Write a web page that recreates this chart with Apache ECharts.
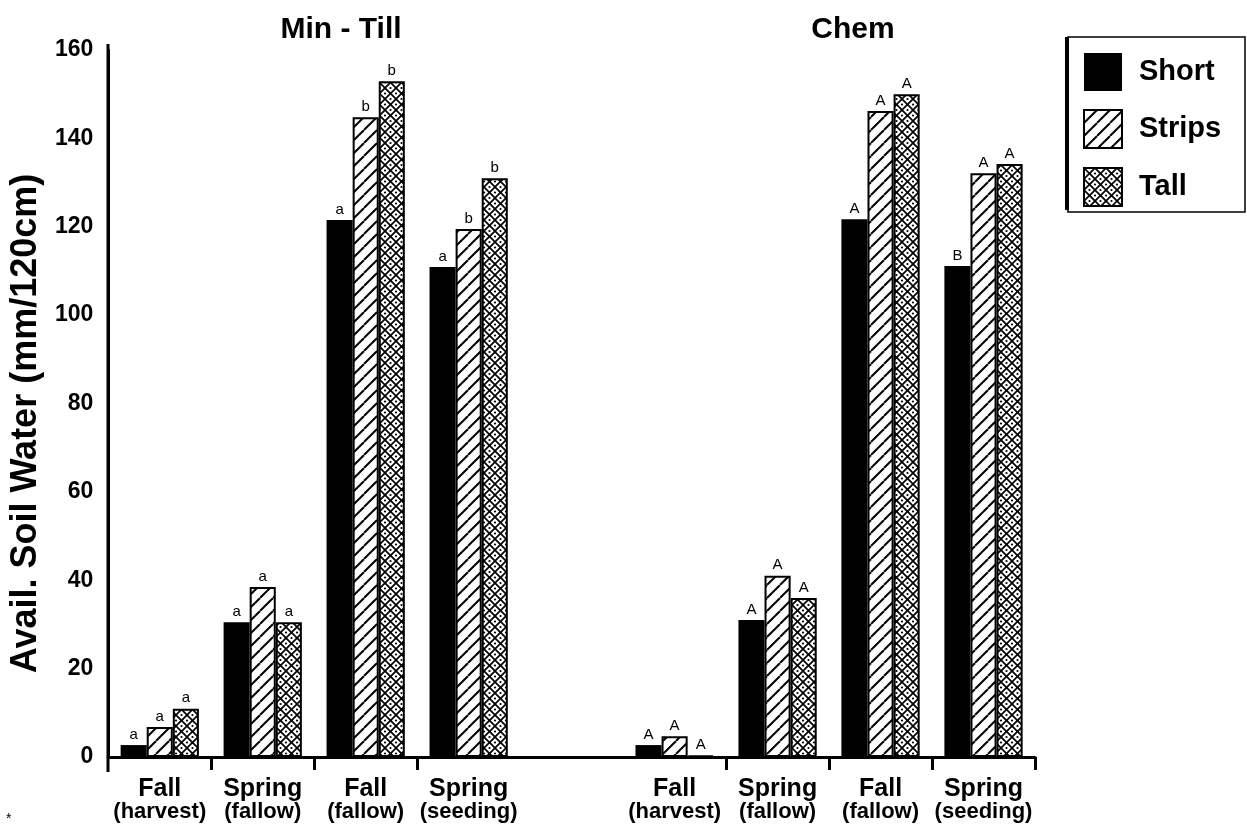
<!DOCTYPE html>
<html>
<head>
<meta charset="utf-8">
<script src="https://cdn.jsdelivr.net/npm/echarts@6/dist/echarts.min.js"></script>
<style>
html,body{margin:0;padding:0;background:#fff;}
#chart{width:1247px;height:831px;}
</style>
</head>
<body>
<div id="chart"></div>
<script>
// ---- data ----
const categories = ['Fall\n(harvest)', 'Spring\n(fallow)', 'Fall\n(fallow)', 'Spring\n(seeding)', '',
                    'Fall\n(harvest)', 'Spring\n(fallow)', 'Fall\n(fallow)', 'Spring\n(seeding)'];
const groupTitles = ['Min - Till', 'Chem'];
const seriesNames = ['Short', 'Strips', 'Tall'];
const shortValues  = [2.7, 30.5, 121.5, 110.9, '-', 2.7, 31, 121.7, 111.1];
const stripsValues = [6.8, 38.5, 144.8, 119.5, '-', 4.7, 41, 146.2, 132.1];
const tallValues   = [10.9, 30.5, 152.9, 131, '-', 0.3, 36, 150, 134.2];
const shortLetters  = ['a', 'a', 'a', 'a', '', 'A', 'A', 'A', 'B'];
const stripsLetters = ['a', 'a', 'b', 'b', '', 'A', 'A', 'A', 'A'];
const tallLetters   = ['a', 'a', 'b', 'b', '', 'A', 'A', 'A', 'A'];
const yTicks = [0, 20, 40, 60, 80, 100, 120, 140, 160];
const yTitle = 'Avail. Soil Water (mm/120cm)';

// ---- patterns ----
function makePattern(size, cross, dotR, lw) {
  const c = document.createElement('canvas');
  c.width = size; c.height = size;
  const g = c.getContext('2d');
  g.fillStyle = '#fff'; g.fillRect(0, 0, size, size);
  g.strokeStyle = '#000'; g.lineWidth = lw;
  for (let k = -1; k <= 1; k++) {
    g.beginPath(); g.moveTo(k * size, size); g.lineTo(k * size + size, 0); g.stroke();
    if (cross) { g.beginPath(); g.moveTo(k * size, 0); g.lineTo(k * size + size, size); g.stroke(); }
  }
  if (dotR) {
    g.fillStyle = '#000';
    [[size / 2, 0], [0, size / 2], [size, size / 2], [size / 2, size]].forEach(function (p) {
      g.beginPath(); g.arc(p[0], p[1], dotR, 0, Math.PI * 2); g.fill();
    });
  }
  return c;
}
const stripPattern = { image: makePattern(13, false, 0, 2), repeat: 'repeat' };
const tallPattern = { image: makePattern(11, true, 1.1, 1.7), repeat: 'repeat' };

const FONT = "'Liberation Sans', Arial, sans-serif";

function mkSeries(name, values, letters, color, border) {
  return {
    name: name,
    type: 'bar',
    data: values,
    barGap: '0%',
    barCategoryGap: '24%',
    itemStyle: { color: color, borderColor: '#000', borderWidth: border },
    label: {
      show: true, position: 'top', distance: 3,
      fontFamily: FONT, fontSize: 15, color: '#000',
      formatter: function (p) { return letters[p.dataIndex] || ''; }
    },
    emphasis: { disabled: true }
  };
}

const chart = echarts.init(document.getElementById('chart'), null, { renderer: 'canvas' });
chart.setOption({
  animation: false,
  backgroundColor: '#fff',
  textStyle: { fontFamily: FONT },
  title: [
    { text: groupTitles[0], left: 336, top: 10, textAlign: 'center',
      textStyle: { fontFamily: FONT, fontSize: 30, fontWeight: 'bold', color: '#000' } },
    { text: groupTitles[1], left: 848, top: 10, textAlign: 'center',
      textStyle: { fontFamily: FONT, fontSize: 30, fontWeight: 'bold', color: '#000' } }
  ],
  legend: {
    orient: 'vertical', left: 1083, top: 53, padding: 0,
    itemWidth: 38, itemHeight: 38, itemGap: 18,
    icon: 'rect',
    data: seriesNames,
    textStyle: { fontFamily: FONT, fontSize: 29, fontWeight: 'bold', color: '#000', padding: [0, 0, 0, 12] }
  },
  graphic: [
    { type: 'rect', shape: { x: 1068, y: 37, width: 177, height: 175 },
      style: { fill: 'none', stroke: '#000', lineWidth: 1.5 }, silent: true },
    { type: 'line', shape: { x1: 1067, y1: 37, x2: 1067, y2: 210 },
      style: { stroke: '#000', lineWidth: 4 }, silent: true },
    { type: 'line', shape: { x1: 108, y1: 44, x2: 108, y2: 772 },
      style: { stroke: '#000', lineWidth: 3 }, silent: true },
    { type: 'text', left: 6, top: 812, style: { text: '*', fontSize: 14, fill: '#000', fontFamily: FONT } }
  ],
  grid: { left: 108, right: 212, top: 50, bottom: 74, containLabel: false },
  xAxis: {
    type: 'category',
    data: categories,
    axisLine: { lineStyle: { color: '#000', width: 3 } },
    axisTick: {
      show: true, length: 13, lineStyle: { color: '#000', width: 3 },
      interval: function (i) { return i === 1 || i === 2 || i === 3 || i === 6 || i === 7 || i === 8; }
    },
    axisLabel: {
      interval: 0, margin: 20,
      formatter: function (v) {
        if (!v) return '';
        const parts = v.split('\n');
        return '{t|' + parts[0] + '}\n{s|' + parts[1] + '}';
      },
      rich: {
        t: { fontFamily: FONT, fontSize: 25, fontWeight: 'bold', color: '#000', lineHeight: 24 },
        s: { fontFamily: FONT, fontSize: 22, fontWeight: 'bold', color: '#000', lineHeight: 22 }
      }
    }
  },
  yAxis: {
    type: 'value', min: 0, max: 160, interval: 20,
    name: yTitle, nameLocation: 'middle', nameGap: 64,
    nameTextStyle: { fontFamily: FONT, fontSize: 36, fontWeight: 'bold', color: '#000', padding: [0, 40, 0, 0] },
    axisLine: { show: true, lineStyle: { color: '#000', width: 3 } },
    axisTick: { show: false },
    splitLine: { show: false },
    axisLabel: {
      margin: 15, fontFamily: FONT, fontSize: 23, fontWeight: 'bold', color: '#000',
      formatter: function (v) { return yTicks.indexOf(v) >= 0 ? String(v) : ''; }
    }
  },
  series: [
    mkSeries(seriesNames[0], shortValues, shortLetters, '#000', 0),
    mkSeries(seriesNames[1], stripsValues, stripsLetters, stripPattern, 2),
    mkSeries(seriesNames[2], tallValues, tallLetters, tallPattern, 2)
  ]
});
</script>
</body>
</html>
